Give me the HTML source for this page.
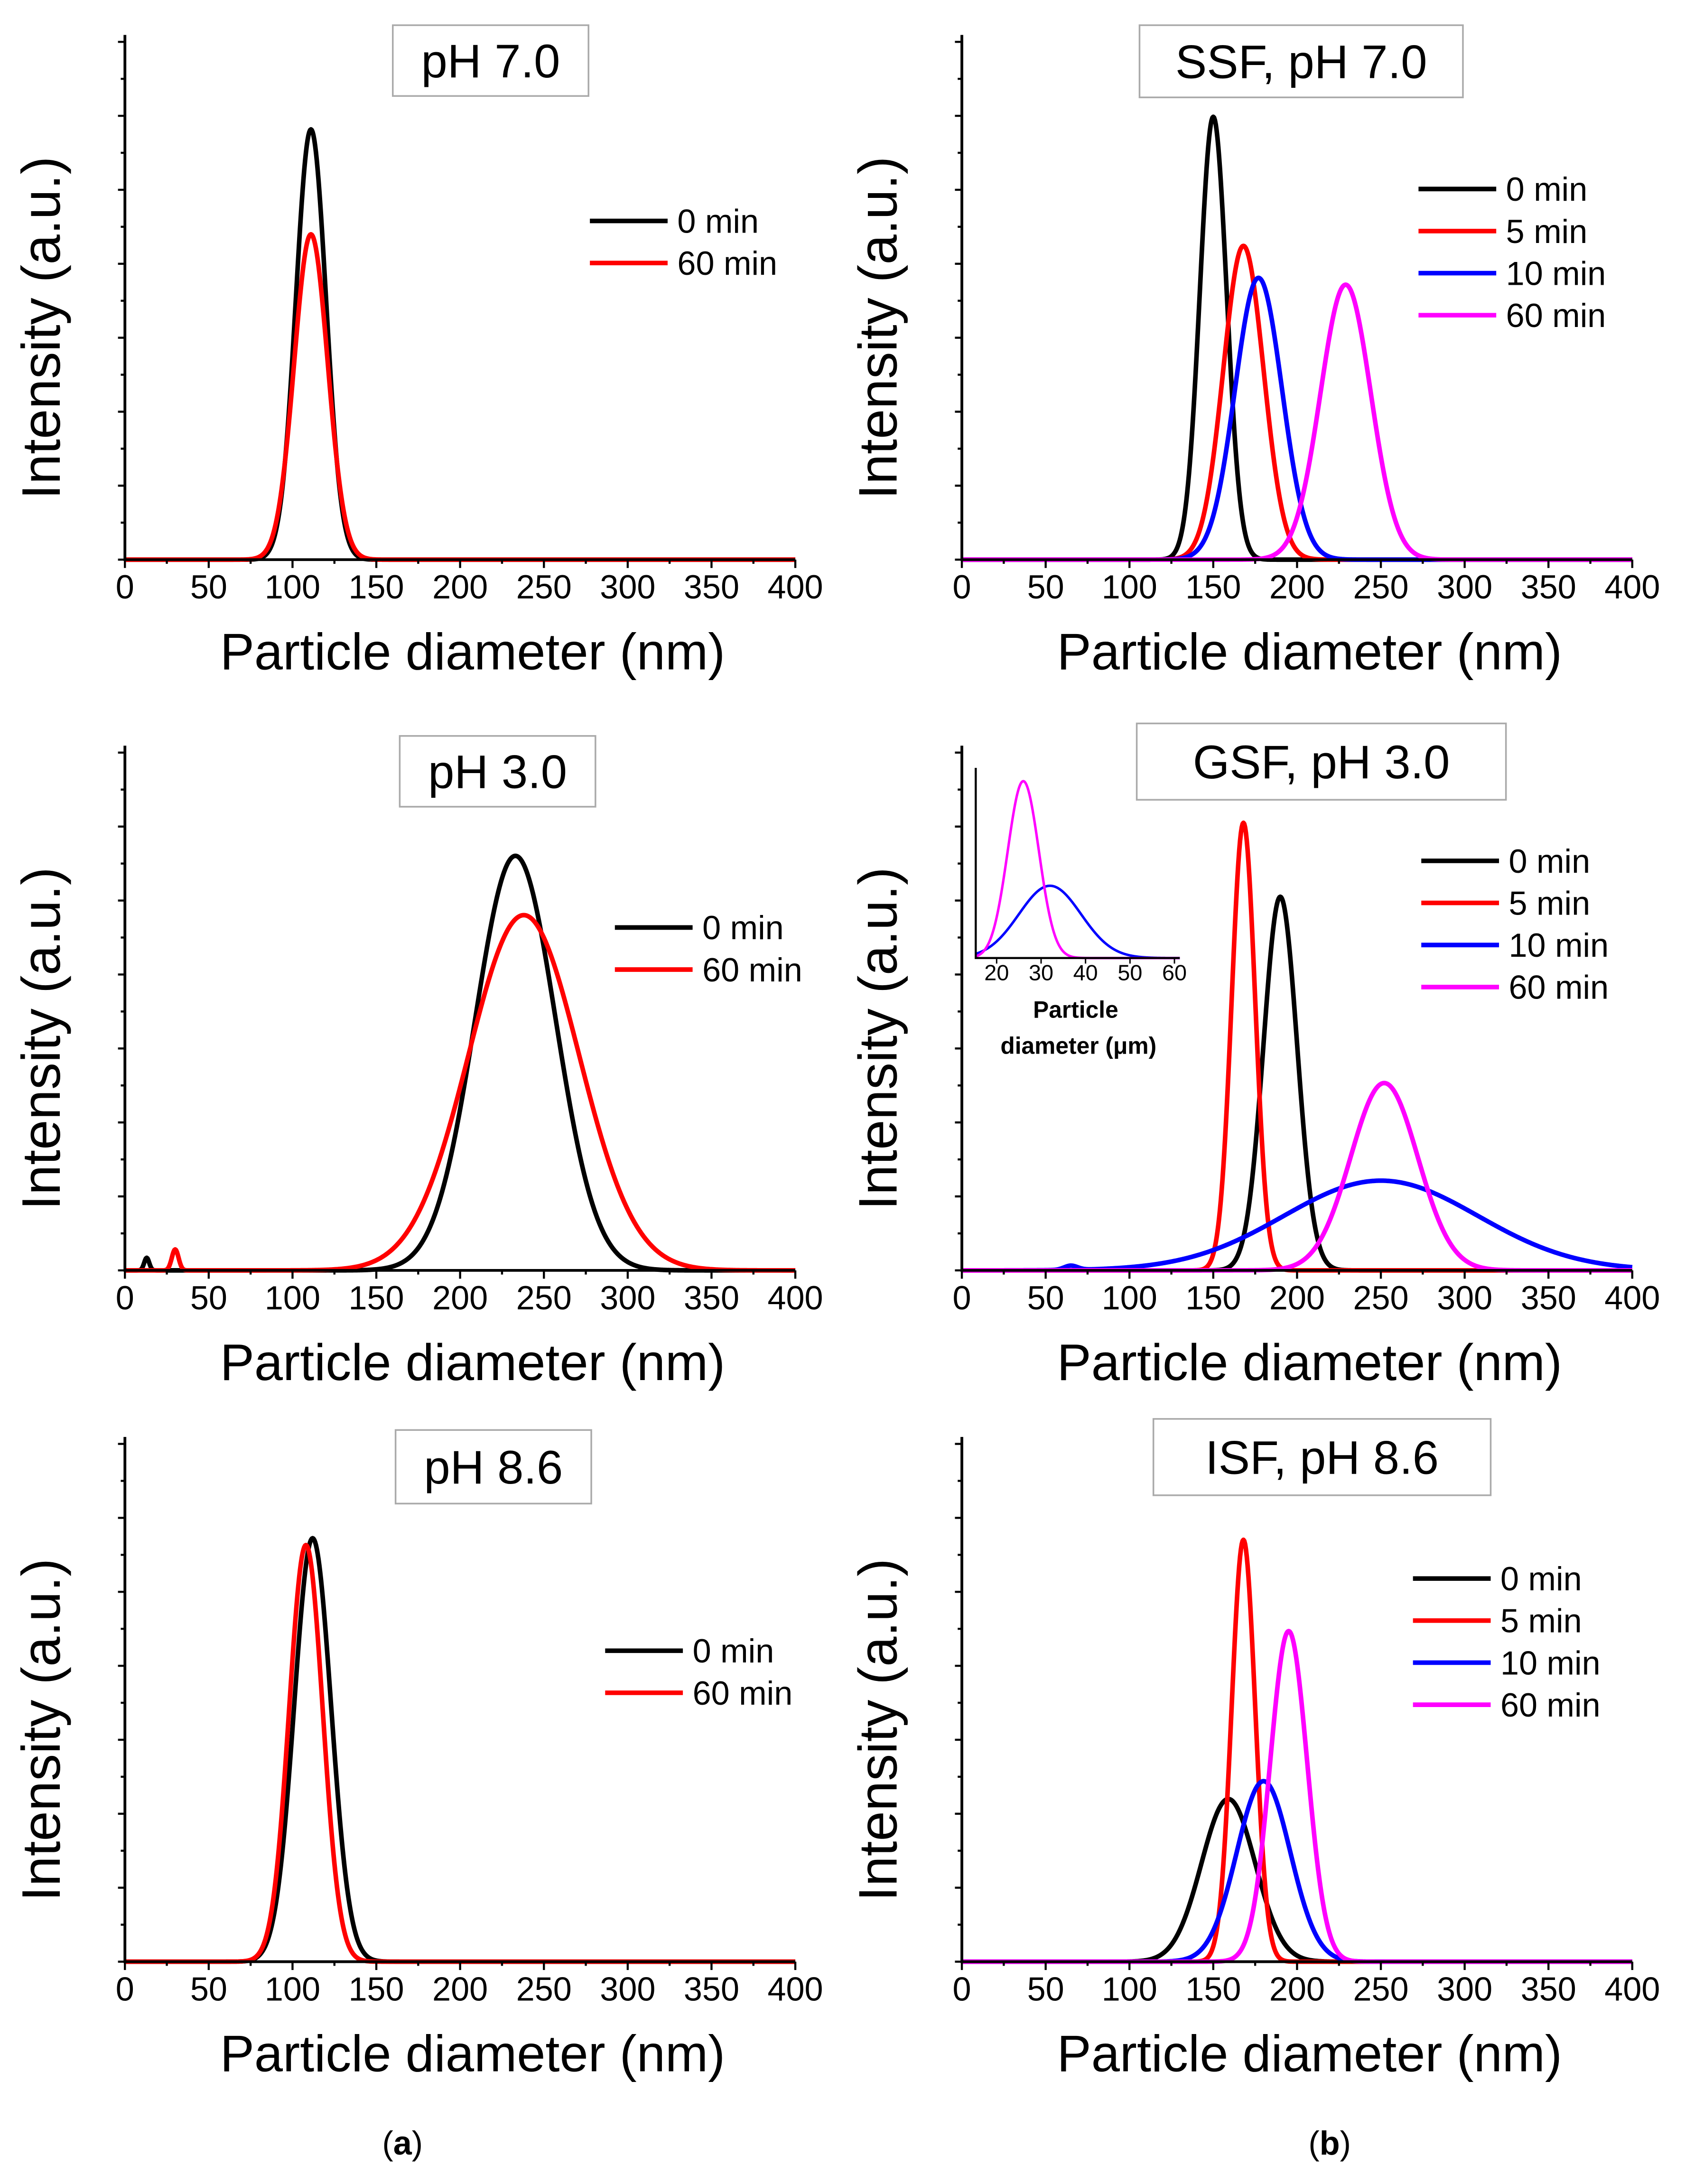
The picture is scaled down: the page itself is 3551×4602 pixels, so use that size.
<!DOCTYPE html>
<html><head><meta charset="utf-8">
<style>
html,body{margin:0;padding:0;background:#fff;}
svg{display:block;}
text{font-family:"Liberation Sans",Arial,sans-serif;}
</style></head>
<body>
<svg id="fig" xmlns="http://www.w3.org/2000/svg" width="3551" height="4602" viewBox="0 0 1214 1573"></svg>
<script>
// x-axis tick labels
const xTicks = [0,50,100,150,200,250,300,350,400];
// Panel peak data: [center nm, height (fraction of axis), sigma nm]
const a1_0 = [[111,0.82,9]];
const a1_60 = [[111,0.62,10]];
const b1_0 = [[150,0.844,8]];
const b1_5 = [[168,0.598,12]];
const b1_10 = [[177,0.537,14]];
const b1_60 = [[229,0.524,15]];
const a2_0 = [[233,0.79,24]];
const a2_0s = [[13,0.024,1.5]];
const a2_60 = [[238,0.677,33]];
const a2_60s = [[30,0.04,2]];
const b2_0 = [[190,0.712,10]];
const b2_5 = [[168,0.853,7]];
const b2_10 = [[250,0.171,58],[65,0.008,4]];
const b2_60 = [[252,0.357,20]];
const a3_0 = [[112,0.807,11]];
const a3_60 = [[108,0.794,10]];
const b3_0 = [[159,0.31,16]];
const b3_5 = [[168,0.804,7]];
const b3_10 = [[180,0.344,16]];
const b3_60 = [[195,0.63,11]];
// inset (μm)
const insetTicks = [20,30,40,50,60];
const inset_10 = [[32,0.38,7]];
const inset_60 = [[26,0.93,3.5]];
const legendLabels2 = ["0 min","60 min"];
const legendLabels4 = ["0 min","5 min","10 min","60 min"];

const NS="http://www.w3.org/2000/svg";
const svg=document.getElementById('fig');
function mk(tag,attrs,parent){const e=document.createElementNS(NS,tag);for(const k in attrs)e.setAttribute(k,attrs[k]);(parent||svg).appendChild(e);return e;}
const COL={k:"#000",r:"#ff0000",b:"#0000ff",m:"#ff00ff"};

function curve(g,peaks,x0,x1,vmin,vmax,yb,yt,color,name,w){
  const sx=v=>x0+(v-vmin)/(vmax-vmin)*(x1-x0);
  const sy=f=>yb-f*(yb-yt);
  let d="";
  for(let v=vmin;v<=vmax+1e-9;v+=(vmax-vmin)/800){
    let f=0;for(const p of peaks){f+=p[1]*Math.exp(-0.5*Math.pow((v-p[0])/p[2],2));}
    d+=(d?"L":"M")+sx(v).toFixed(2)+","+sy(f).toFixed(2);
  }
  const p=mk('path',{d:d,fill:"none",stroke:color,"stroke-width":w||3.3,"stroke-linejoin":"round"},g);
  
  
}

function panel(id,x0,yb,title,box,series,legend){
  const x1=x0+483, yt=yb-378;
  const g=mk('g',{});
  
  
  const sx=v=>x0+v/400*(x1-x0);
  series.forEach(s=>{const pk=s[0].concat(s[3]||[]);curve(g,pk,x0,x1,0,400,yb,yt,s[1],id+"-"+s[2]);});
  const ax=mk('path',{d:`M${x0},${yt}L${x0},${yb}L${x1},${yb}`,fill:"none",stroke:"#000","stroke-width":2},g);
  
  for(let i=0;i<=14;i++){const y=yb-i*(378-5)/14;mk('line',{x1:x0,x2:x0-(i%2?3:5),y1:y,y2:y,stroke:"#000","stroke-width":1.5},g);}
  for(let v=0;v<=400;v+=25){mk('line',{x1:sx(v),x2:sx(v),y1:yb,y2:yb+(v%50?3:6),stroke:"#000","stroke-width":1.5},g);}
  xTicks.forEach(v=>{const t=mk('text',{x:sx(v),y:yb+28,"font-size":24,"text-anchor":"middle"},g);t.textContent=v;
    });
  const xt=mk('text',{x:(x0+x1)/2+9,y:yb+79,"font-size":37,"text-anchor":"middle"},g);xt.textContent="Particle diameter (nm)";
  
  const yc=(yt+yb)/2+22;
  const ytl=mk('text',{x:x0-47,y:yc,"font-size":39,"text-anchor":"middle",transform:`rotate(-90 ${x0-47} ${yc})`},g);ytl.textContent="Intensity (a.u.)";
  
  const r=mk('rect',{x:box[0],y:box[1],width:box[2]-box[0],height:box[3]-box[1],fill:"#fff",stroke:"#aaa","stroke-width":1.2},g);
  
  const tt=mk('text',{x:(box[0]+box[2])/2,y:(box[1]+box[3])/2+12,"font-size":34,"text-anchor":"middle"},g);tt.textContent=title;
  
  const [lx,ly,labels]=legend;
  labels.forEach((lab,i)=>{const y=ly+i*30.3;
    const l=mk('line',{x1:lx,x2:lx+56,y1:y,y2:y,stroke:series[i][1],"stroke-width":3.3},g);
    
    const t=mk('text',{x:lx+63,y:y+8.5,"font-size":24},g);t.textContent=lab;
    });
  return g;
}

panel('panel-a-ph7',90,403,"pH 7.0",[283,18,424,69],[[a1_0,COL.k,'0min'],[a1_60,COL.r,'60min']],[425,159,legendLabels2]);
panel('panel-b-ssf',693,403,"SSF, pH 7.0",[821,18,1054,70],[[b1_0,COL.k,'0min'],[b1_5,COL.r,'5min'],[b1_10,COL.b,'10min'],[b1_60,COL.m,'60min']],[1022,136,legendLabels4]);
panel('panel-a-ph3',90,915,"pH 3.0",[288,530,429,581],[[a2_0,COL.k,'0min',a2_0s],[a2_60,COL.r,'60min',a2_60s]],[443,668,legendLabels2]);
panel('panel-b-gsf',693,915,"GSF, pH 3.0",[819,521,1085,576],[[b2_0,COL.k,'0min'],[b2_5,COL.r,'5min'],[b2_10,COL.b,'10min'],[b2_60,COL.m,'60min']],[1024,620,legendLabels4]);
panel('panel-a-ph86',90,1413,"pH 8.6",[285,1030,426,1083],[[a3_0,COL.k,'0min'],[a3_60,COL.r,'60min']],[436,1189,legendLabels2]);
panel('panel-b-isf',693,1413,"ISF, pH 8.6",[831,1022,1074,1077],[[b3_0,COL.k,'0min'],[b3_5,COL.r,'5min'],[b3_10,COL.b,'10min'],[b3_60,COL.m,'60min']],[1018,1137,legendLabels4]);

(function(){
  const g=mk('g',{});
  
  const x0=703,x1=850,yb=690,yt=553,vmin=15.3,vmax=61.2;
  curve(g,inset_10,x0,x1,vmin,vmax,yb,yt,COL.b,'inset-10min',1.8);
  curve(g,inset_60,x0,x1,vmin,vmax,yb,yt,COL.m,'inset-60min',1.8);
  const ax=mk('path',{d:`M${x0},${yt}L${x0},${yb}L${x1},${yb}`,fill:"none",stroke:"#000","stroke-width":1.5},g);
  
  const sx=v=>x0+(v-vmin)/(vmax-vmin)*(x1-x0);
  insetTicks.forEach(v=>{mk('line',{x1:sx(v),x2:sx(v),y1:yb,y2:yb+4,stroke:"#000","stroke-width":1},g);
    const t=mk('text',{x:sx(v),y:yb+16,"font-size":16,"text-anchor":"middle"},g);t.textContent=v;
    });
  const t1=mk('text',{x:775,y:733,"font-size":17,"font-weight":"bold","text-anchor":"middle"},g);t1.textContent="Particle";
  
  const t2=mk('text',{x:777,y:759,"font-size":17,"font-weight":"bold","text-anchor":"middle"},g);t2.textContent="diameter (μm)";
  
})();

const la=mk('text',{x:290,y:1552,"font-size":24,"text-anchor":"middle","font-family":"Liberation Serif, serif"});
la.innerHTML='(<tspan font-weight="bold">a</tspan>)';

const lb=mk('text',{x:958,y:1552,"font-size":24,"text-anchor":"middle","font-family":"Liberation Serif, serif"});
lb.innerHTML='(<tspan font-weight="bold">b</tspan>)';

</script>
</body></html>
